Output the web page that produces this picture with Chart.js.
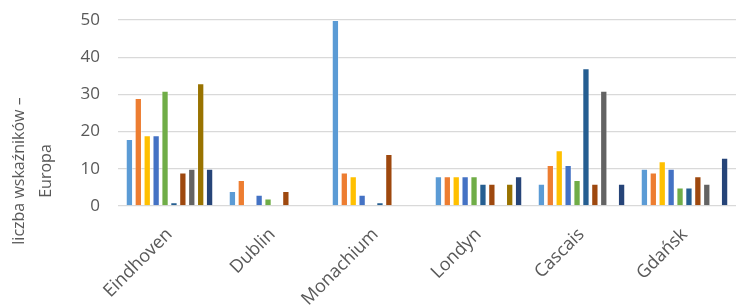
<!DOCTYPE html>
<html>
<head>
<meta charset="utf-8">
<script src="https://cdn.jsdelivr.net/npm/chart.js@4/dist/chart.umd.min.js"></script>
<style>
  html, body { margin: 0; padding: 0; background: #fff; }
  #wrap { width: 736px; height: 307px; position: relative; }
</style>
</head>
<body>
<div id="wrap"><canvas id="myChart"></canvas></div>
<script>
// Categories (cities)
const cities = ['Eindhoven', 'Dublin', 'Monachium', 'Londyn', 'Cascais', 'Gdańsk'];

// Series values, one array per series
const s1 = [18, 4, 50, 8, 6, 10];
const s2 = [29, 7, 9, 8, 11, 9];
const s3 = [19, 0, 8, 8, 15, 12];
const s4 = [19, 3, 3, 8, 11, 10];
const s5 = [31, 2, 0, 8, 7, 5];
const s6 = [1, 0, 1, 6, 37, 5];
const s7 = [9, 4, 14, 6, 6, 8];
const s8 = [10, 0, 0, 0, 31, 6];
const s9 = [33, 0, 0, 6, 0, 0];
const s10 = [10, 0, 0, 8, 6, 13];

const seriesValues = [s1, s2, s3, s4, s5, s6, s7, s8, s9, s10];
const seriesColors = ['#5B9BD5', '#ED7D31', '#FFC000', '#4472C4', '#70AD47',
                      '#255E91', '#9E480E', '#636363', '#997300', '#264478'];

// Y axis ticks
const yMin = 0;
const yMax = 50;
const yStep = 10;

const axisTitle = ['liczba wskaźników –', 'Europa'];

const textColor = '#595959';
const fontFamily = "'Open Sans', sans-serif";

// Draws the rotated y axis title (two lines) on the left side
const axisTitlePlugin = {
    id: 'axisTitle',
    afterDraw(chart) {
        const ctx = chart.ctx;
        ctx.save();
        ctx.fillStyle = textColor;
        ctx.font = `16px ${fontFamily}`;
        ctx.textAlign = 'center';
        ctx.textBaseline = 'middle';
        const xs = [19, 46];
        axisTitle.forEach((line, i) => {
            ctx.save();
            ctx.translate(xs[i], 171);
            ctx.rotate(-Math.PI / 2);
            ctx.fillText(line, 0, 0);
            ctx.restore();
        });
        ctx.restore();
    }
};

const data = {
    labels: cities,
    datasets: seriesValues.map((vals, i) => ({
        label: 'Seria ' + (i + 1),
        data: vals,
        backgroundColor: seriesColors[i],
        borderColor: 'rgba(255,255,255,0.35)',
        borderWidth: 1,
        barPercentage: 0.82,
        categoryPercentage: 0.865
    }))
};

const config = {
    type: 'bar',
    data: data,
    options: {
        responsive: true,
        maintainAspectRatio: false,
        animation: false,
        layout: {
            padding: { top: 20, right: 0, left: 0, bottom: 0 }
        },
        plugins: {
            legend: { display: false },
            tooltip: { enabled: false }
        },
        scales: {
            x: {
                grid: { display: false },
                border: { display: false },
                ticks: {
                    color: textColor,
                    font: { family: fontFamily, size: 18 },
                    maxRotation: 45,
                    minRotation: 45,
                    padding: 10
                },
                afterFit: (scale) => { scale.height = 101; }
            },
            y: {
                min: yMin,
                max: yMax,
                border: { display: false },
                grid: {
                    color: '#d9d9d9',
                    lineWidth: 1.3,
                    drawTicks: true,
                    tickLength: 16,
                    tickColor: 'rgba(0,0,0,0)'
                },
                ticks: {
                    stepSize: yStep,
                    color: textColor,
                    font: { family: fontFamily, size: 17 },
                    padding: 2
                },
                afterFit: (scale) => { scale.width = 118; }
            }
        }
    },
    plugins: [axisTitlePlugin]
};

const ctx = document.getElementById('myChart').getContext('2d');
const currentChart = new Chart(ctx, config);
</script>
</body>
</html>
